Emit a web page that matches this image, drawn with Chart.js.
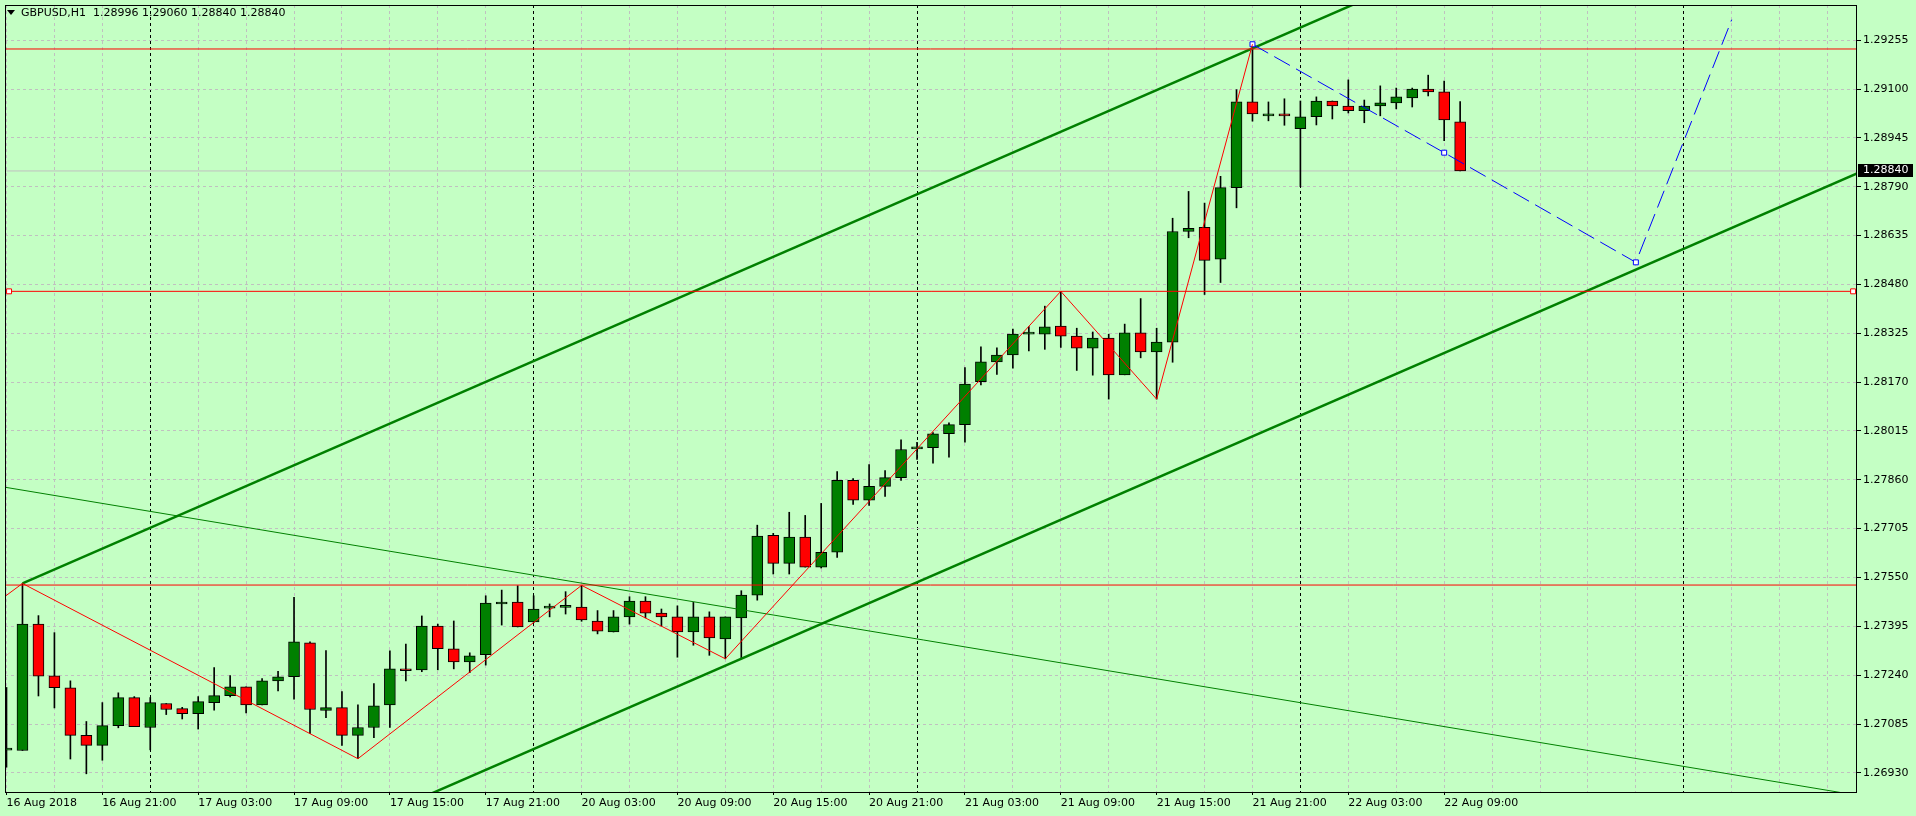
<!DOCTYPE html>
<html>
<head>
<meta charset="utf-8">
<script src="https://cdn.jsdelivr.net/npm/chart.js"></script>
<style>
html,body{margin:0;padding:0;background:#c4ffc4;overflow:hidden;}
#wrap{position:relative;width:1916px;height:816px;}
canvas{display:block;}
#title{position:absolute;left:21px;top:6px;font-family:"DejaVu Sans";font-size:11px;line-height:13px;color:#000;white-space:pre;}
#tri{position:absolute;left:7px;top:10px;width:0;height:0;border-left:4px solid transparent;border-right:4px solid transparent;border-top:5px solid #000;}
</style>
</head>
<body>
<div id="wrap">
<canvas id="c" width="1916" height="816"></canvas>
<div id="tri"></div>
<div id="title"></div>
</div>
<script>
// ---------- DATA ----------
const symbol = 'GBPUSD,H1';
// hourly bars, bar 0 = 16 Aug 2018 15:00 ... bar 91 = 22 Aug 10:00
const opens = [
1.27002,1.27001,1.27402,1.27238,1.27200,1.27049,1.27017,1.27080,1.27169,1.27074,
1.27150,1.27134,1.27118,1.27153,1.27175,1.27203,1.27146,1.27222,1.27235,1.27343,
1.27128,1.27137,1.27049,1.27074,1.27146,1.27260,1.27257,1.27396,1.27324,1.27282,
1.27305,1.27466,1.27472,1.27409,1.27453,1.27455,1.27456,1.27412,1.27377,1.27425,
1.27475,1.27437,1.27425,1.27377,1.27425,1.27355,1.27422,1.27494,1.27684,1.27595,
1.27678,1.27583,1.27630,1.27858,1.27795,1.27839,1.27867,1.27958,1.27962,1.28006,
1.28035,1.28171,1.28234,1.28256,1.28322,1.28322,1.28348,1.28316,1.28278,1.28310,
1.28193,1.28326,1.28266,1.28297,1.28648,1.28661,1.28560,1.28787,1.29059,1.29015,
1.29021,1.28974,1.29012,1.29062,1.29046,1.29031,1.29046,1.29056,1.29072,1.29100,
1.29091,1.28996];
const highs = [
1.27201,1.27531,1.27429,1.27375,1.27222,1.27093,1.27153,1.27184,1.27172,1.27169,
1.27150,1.27138,1.27172,1.27264,1.27239,1.27203,1.27229,1.27252,1.27487,1.27346,
1.27318,1.27188,1.27146,1.27213,1.27317,1.27339,1.27428,1.27402,1.27412,1.27311,
1.27492,1.27510,1.27524,1.27492,1.27466,1.27505,1.27525,1.27445,1.27445,1.27489,
1.27489,1.27450,1.27460,1.27471,1.27441,1.27425,1.27508,1.27716,1.27690,1.27757,
1.27747,1.27785,1.27886,1.27864,1.27908,1.27889,1.27987,1.27979,1.28010,1.28041,
1.28216,1.28282,1.28279,1.28338,1.28346,1.28411,1.28458,1.28341,1.28329,1.28322,
1.28354,1.28435,1.28341,1.28690,1.28775,1.28738,1.28823,1.29098,1.29242,1.29059,
1.29069,1.29062,1.29075,1.29062,1.29129,1.29065,1.29110,1.29103,1.29103,1.29144,
1.29125,1.29060];
const lows = [
1.26948,1.27001,1.27174,1.27136,1.26974,1.26927,1.26970,1.27073,1.27077,1.27003,
1.27115,1.27101,1.27069,1.27129,1.27171,1.27120,1.27146,1.27190,1.27164,1.27054,
1.27105,1.27017,1.26975,1.27042,1.27074,1.27222,1.27251,1.27257,1.27260,1.27248,
1.27272,1.27399,1.27393,1.27407,1.27425,1.27434,1.27411,1.27371,1.27377,1.27402,
1.27422,1.27396,1.27297,1.27335,1.27303,1.27292,1.27292,1.27478,1.27561,1.27561,
1.27583,1.27580,1.27614,1.27782,1.27779,1.27807,1.27858,1.27925,1.27913,1.27932,
1.27979,1.28161,1.28194,1.28214,1.28269,1.28274,1.28280,1.28207,1.28192,1.28116,
1.28193,1.28247,1.28116,1.28233,1.28628,1.28448,1.28486,1.28723,1.28998,1.28999,
1.28985,1.28790,1.28986,1.29005,1.29024,1.28993,1.29015,1.29037,1.29043,1.29078,
1.28936,1.28840];
const closes = [
1.27002,1.27402,1.27237,1.27200,1.27049,1.27017,1.27080,1.27169,1.27077,1.27153,
1.27131,1.27118,1.27156,1.27175,1.27203,1.27146,1.27222,1.27235,1.27346,1.27131,
1.27137,1.27049,1.27074,1.27143,1.27260,1.27254,1.27396,1.27324,1.27282,1.27301,
1.27469,1.27472,1.27393,1.27450,1.27453,1.27455,1.27415,1.27380,1.27425,1.27475,
1.27437,1.27425,1.27377,1.27425,1.27358,1.27425,1.27494,1.27681,1.27595,1.27678,
1.27583,1.27630,1.27858,1.27795,1.27839,1.27867,1.27956,1.27958,1.28006,1.28035,
1.28164,1.28234,1.28256,1.28322,1.28322,1.28345,1.28316,1.28278,1.28310,1.28193,
1.28326,1.28266,1.28297,1.28648,1.28658,1.28556,1.28787,1.29059,1.29021,1.29021,
1.29015,1.29012,1.29062,1.29046,1.29031,1.29046,1.29056,1.29075,1.29100,1.29091,
1.29002,1.28840];

// time axis labels, one every 6 bars starting at bar 0
const timeLabels = ['16 Aug 2018','16 Aug 21:00','17 Aug 03:00','17 Aug 09:00','17 Aug 15:00',
  '17 Aug 21:00','20 Aug 03:00','20 Aug 09:00','20 Aug 15:00','20 Aug 21:00','21 Aug 03:00',
  '21 Aug 09:00','21 Aug 15:00','21 Aug 21:00','22 Aug 03:00','22 Aug 09:00'];
const labelStep = 6;
const gridStep = 3;
const daySeparators = [9, 33, 57, 81, 105];
const priceTicks = [1.26930,1.27085,1.27240,1.27395,1.27550,1.27705,1.27860,1.28015,
  1.28170,1.28325,1.28480,1.28635,1.28790,1.28945,1.29100,1.29255];

// drawn objects (bar index, price)
const zigzagIdx   = [-1, 1, 22, 36, 45, 66, 72, 78];
const zigzagPrice = [1.27456, 1.27531, 1.26975, 1.27525, 1.27292, 1.28458, 1.28116, 1.29242];
const projIdx   = [78, 90, 102, 108];
const projPrice = [1.29242, 1.28898, 1.28550, 1.29320];
const channelIdx   = [1, 120];
const channelUpper = [1.27531, 1.30155];
const channelLower = [1.26300, 1.28924];
const trendIdx   = [-1, 120];
const trendPrice = [1.27844, 1.26824];
const levelPrices = [1.29227, 1.27526];
const selectedLevel = 1.28458;
const selectedLevelIdx = [0.16, 115.6];

// ---------- VIEW ----------
const X_MIN = -0.09375, X_MAX = 115.78125;
const Y_MIN = 1.268693, Y_MAX = 1.293666;
const FONT = {family: 'DejaVu Sans', size: 11};
const GREEN = '#008000', RED = '#ff0000';

const n = closes.length;
const last = n - 1;
document.getElementById('title').textContent =
  symbol + '  ' + [opens[last], highs[last], lows[last], closes[last]].map(v => v.toFixed(5)).join(' ');

const labelMap = new Map(timeLabels.map((t, k) => [k * labelStep, t]));
const sepSet = new Set(daySeparators);
const gridTicks = [];
for (let v = 0; v <= X_MAX; v += gridStep) gridTicks.push(v);

const idx = opens.map((_, i) => i);
const pts = (xs, ys) => xs.map((x, k) => ({x, y: ys[k]}));
const flat = (p) => [{x: -1, y: p}, {x: 120, y: p}];

const datasets = [
  { type: 'line', label: 'bid', data: flat(closes[last]), borderColor: '#c0c0c0', borderWidth: 1,
    pointRadius: 0, order: 10, tension: 0 },
  { type: 'bar', label: 'wicks', data: idx.map(i => ({x: i, y: [lows[i], highs[i]]})),
    backgroundColor: '#000', borderWidth: 0, barThickness: 1, grouped: false, order: 5, minBarLength: 1 },
  { type: 'bar', label: 'bodies', data: idx.map(i => ({x: i, y: [opens[i], closes[i]]})),
    backgroundColor: idx.map(i => closes[i] >= opens[i] ? GREEN : RED),
    borderColor: '#000', borderWidth: 1, borderSkipped: false,
    barThickness: 11, grouped: false, order: 4, minBarLength: 2 },
  { type: 'line', label: 'trend', data: pts(trendIdx, trendPrice), borderColor: GREEN, borderWidth: 1,
    pointRadius: 0, order: 3, tension: 0 },
  { type: 'line', label: 'chanUp', data: pts(channelIdx, channelUpper), borderColor: GREEN, borderWidth: 2.5,
    pointRadius: 0, order: 2, tension: 0 },
  { type: 'line', label: 'chanLo', data: pts(channelIdx, channelLower), borderColor: GREEN, borderWidth: 2.5,
    pointRadius: 0, order: 2, tension: 0 },
  ...levelPrices.map(p => ({ type: 'line', label: 'level', data: flat(p), borderColor: RED, borderWidth: 1,
    pointRadius: 0, order: 1, tension: 0 })),
  { type: 'line', label: 'selLevel', data: selectedLevelIdx.map(x => ({x, y: selectedLevel})),
    borderColor: RED, borderWidth: 1, pointStyle: 'rect', pointRadius: 3.5, pointBorderColor: RED,
    pointBackgroundColor: '#ffffff', pointBorderWidth: 1, order: 1, tension: 0 },
  { type: 'line', label: 'zigzag', data: pts(zigzagIdx, zigzagPrice), borderColor: RED, borderWidth: 1,
    pointRadius: 0, order: 0, tension: 0 },
  { type: 'line', label: 'proj', data: pts(projIdx, projPrice), borderColor: '#0000ff', borderWidth: 1,
    borderDash: [18, 7], pointStyle: 'rect', pointRadius: [3.5, 3.5, 3.5, 0], pointBorderColor: '#0000ff',
    pointBackgroundColor: '#ffffff', pointBorderWidth: 1, order: 0, tension: 0 }
];

const framePlugin = {
  id: 'frame',
  afterDraw(chart) {
    const {ctx, chartArea: a, scales: {y}} = chart;
    ctx.save();
    ctx.setLineDash([]);
    ctx.strokeStyle = '#000';
    ctx.lineWidth = 1;
    ctx.strokeRect(a.left + 0.5, a.top + 0.5, a.right - a.left, a.bottom - a.top);
    const price = closes[last];
    const py = y.getPixelForValue(price);
    ctx.fillStyle = '#000';
    ctx.fillRect(a.right + 2, Math.round(py) - 7, 55, 13);
    ctx.fillStyle = '#fff';
    ctx.font = '11px "DejaVu Sans"';
    ctx.textBaseline = 'middle';
    ctx.textAlign = 'left';
    ctx.fillText(price.toFixed(5), a.right + 7, Math.round(py) - 0.5);
    ctx.restore();
  }
};

new Chart(document.getElementById('c'), {
  type: 'bar',
  data: { datasets },
  plugins: [framePlugin],
  options: {
    responsive: false,
    animation: false,
    devicePixelRatio: 1,
    events: [],
    layout: { padding: { left: 2, top: 2, right: 0, bottom: 0 } },
    plugins: { legend: { display: false }, tooltip: { enabled: false }, title: { display: false } },
    scales: {
      x: {
        type: 'linear', min: X_MIN, max: X_MAX, offset: false, bounds: 'data',
        grid: {
          offset: false,
          color: c => (c.tick && sepSet.has(c.tick.value)) ? '#000000' : '#c0c0c0',
          lineWidth: 1, drawTicks: true, tickLength: 3,
          tickColor: c => (c.tick && labelMap.has(c.tick.value)) ? '#000000' : 'rgba(0,0,0,0)',
          tickBorderDash: []
        },
        border: { display: true, color: '#000', width: 1, dash: [3, 3] },
        ticks: {
          autoSkip: false, maxRotation: 0, minRotation: 0, align: 'start', padding: 2,
          color: '#000', font: FONT,
          callback: v => labelMap.get(v) || ''
        },
        afterBuildTicks: s => { s.ticks = gridTicks.map(v => ({value: v})); },
        afterFit: s => { s.height = 24; s.paddingLeft = 0; s.paddingRight = 0; }
      },
      y: {
        type: 'linear', position: 'right', min: Y_MIN, max: Y_MAX, bounds: 'data', beginAtZero: false,
        grid: { color: '#c0c0c0', lineWidth: 1, drawTicks: true, tickLength: 5, tickColor: '#000', tickBorderDash: [] },
        border: { display: true, color: '#000', width: 1, dash: [3, 3] },
        ticks: { autoSkip: false, padding: 2, color: '#000', font: FONT, crossAlign: 'near',
          callback: v => Number(v).toFixed(5) },
        afterBuildTicks: s => { s.ticks = priceTicks.map(v => ({value: v})); },
        afterFit: s => { s.width = 60; s.paddingTop = 0; s.paddingBottom = 0; }
      }
    }
  }
});
</script>
</body>
</html>
